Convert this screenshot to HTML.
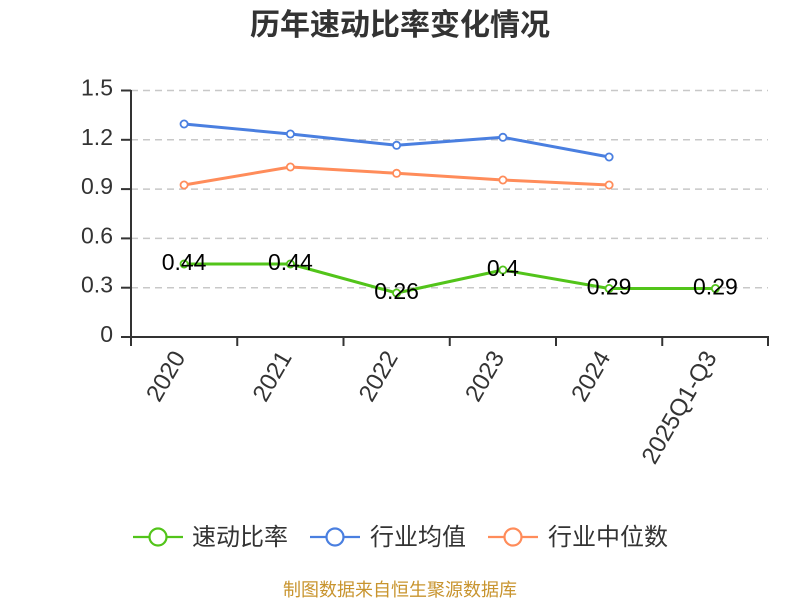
<!DOCTYPE html>
<html>
<head>
<meta charset="utf-8">
<style>
  html, body { margin: 0; padding: 0; background: #ffffff; }
  svg { display: block; }
  text { font-family: "Liberation Sans", "Noto Sans CJK SC", sans-serif; }
</style>
</head>
<body>
<svg width="800" height="600" viewBox="0 0 800 600" xmlns="http://www.w3.org/2000/svg">
  <rect x="0" y="0" width="800" height="600" fill="#ffffff"/>

  <!-- Title -->
  <text x="400" y="35" text-anchor="middle" font-size="30" font-weight="bold" fill="#333333">历年速动比率变化情况</text>

  <!-- Grid lines -->
  <g stroke="#c8c8c8" stroke-width="1.5" stroke-dasharray="7,5" fill="none">
    <line x1="131" y1="90.5" x2="768" y2="90.5"/>
    <line x1="131" y1="139.8" x2="768" y2="139.8"/>
    <line x1="131" y1="189.1" x2="768" y2="189.1"/>
    <line x1="131" y1="238.4" x2="768" y2="238.4"/>
    <line x1="131" y1="287.7" x2="768" y2="287.7"/>
  </g>

  <!-- Axes -->
  <g stroke="#333333" stroke-width="2" fill="none">
    <line x1="131" y1="90" x2="131" y2="337"/>
    <line x1="130" y1="337" x2="769" y2="337"/>
    <!-- y ticks -->
    <line x1="121" y1="90.5" x2="131" y2="90.5"/>
    <line x1="121" y1="139.8" x2="131" y2="139.8"/>
    <line x1="121" y1="189.1" x2="131" y2="189.1"/>
    <line x1="121" y1="238.4" x2="131" y2="238.4"/>
    <line x1="121" y1="287.7" x2="131" y2="287.7"/>
    <line x1="121" y1="337" x2="131" y2="337"/>
    <!-- x ticks -->
    <line x1="131" y1="337" x2="131" y2="346"/>
    <line x1="237.25" y1="337" x2="237.25" y2="346"/>
    <line x1="343.5" y1="337" x2="343.5" y2="346"/>
    <line x1="449.75" y1="337" x2="449.75" y2="346"/>
    <line x1="556" y1="337" x2="556" y2="346"/>
    <line x1="662.25" y1="337" x2="662.25" y2="346"/>
    <line x1="768" y1="337" x2="768" y2="346"/>
  </g>

  <!-- Y labels -->
  <g font-size="23" fill="#333333" text-anchor="end">
    <text x="113" y="95.5">1.5</text>
    <text x="113" y="144.8">1.2</text>
    <text x="113" y="194.1">0.9</text>
    <text x="113" y="243.4">0.6</text>
    <text x="113" y="292.7">0.3</text>
    <text x="113" y="342">0</text>
  </g>

  <!-- X labels -->
  <g font-size="24" fill="#333333" text-anchor="end">
    <text transform="translate(186,357) rotate(-60)">2020</text>
    <text transform="translate(292.4,357) rotate(-60)">2021</text>
    <text transform="translate(398.6,357) rotate(-60)">2022</text>
    <text transform="translate(504.9,357) rotate(-60)">2023</text>
    <text transform="translate(611.1,357) rotate(-60)">2024</text>
    <text transform="translate(717.4,357) rotate(-60)">2025Q1-Q3</text>
  </g>

  <!-- Series lines -->
  <polyline fill="none" stroke="#4a7fe0" stroke-width="3" stroke-linejoin="round"
    points="184.1,124 290.4,134 396.6,145.3 502.9,137.3 609.1,157"/>
  <polyline fill="none" stroke="#ff8c5a" stroke-width="3" stroke-linejoin="round"
    points="184.1,185 290.4,167 396.6,173.3 502.9,180 609.1,185"/>
  <polyline fill="none" stroke="#52c41a" stroke-width="3" stroke-linejoin="round"
    points="184.1,264 290.4,264 396.6,293 502.9,270 609.1,288.5 715.4,288.5"/>

  <!-- Markers -->
  <g fill="#ffffff" stroke="#4a7fe0" stroke-width="1.8">
    <circle cx="184.1" cy="124" r="3.6"/>
    <circle cx="290.4" cy="134" r="3.6"/>
    <circle cx="396.6" cy="145.3" r="3.6"/>
    <circle cx="502.9" cy="137.3" r="3.6"/>
    <circle cx="609.1" cy="157" r="3.6"/>
  </g>
  <g fill="#ffffff" stroke="#ff8c5a" stroke-width="1.8">
    <circle cx="184.1" cy="185" r="3.6"/>
    <circle cx="290.4" cy="167" r="3.6"/>
    <circle cx="396.6" cy="173.3" r="3.6"/>
    <circle cx="502.9" cy="180" r="3.6"/>
    <circle cx="609.1" cy="185" r="3.6"/>
  </g>
  <g fill="#ffffff" stroke="#52c41a" stroke-width="1.8">
    <circle cx="184.1" cy="264" r="3.6"/>
    <circle cx="290.4" cy="264" r="3.6"/>
    <circle cx="396.6" cy="293" r="3.6"/>
    <circle cx="502.9" cy="270" r="3.6"/>
    <circle cx="609.1" cy="288.5" r="3.6"/>
    <circle cx="715.4" cy="288.5" r="3.6"/>
  </g>

  <!-- Data labels -->
  <g font-size="23" fill="#000000" text-anchor="middle">
    <text x="184.1" y="270.2">0.44</text>
    <text x="290.4" y="270.2">0.44</text>
    <text x="396.6" y="299.2">0.26</text>
    <text x="502.9" y="276.2">0.4</text>
    <text x="609.1" y="294.5">0.29</text>
    <text x="715.4" y="294.5">0.29</text>
  </g>

  <!-- Legend -->
  <g stroke-width="2.2">
    <line x1="133" y1="537" x2="183" y2="537" stroke="#52c41a"/>
    <circle cx="158" cy="537" r="8.5" fill="#ffffff" stroke="#52c41a"/>
    <line x1="310" y1="537" x2="360" y2="537" stroke="#4a7fe0"/>
    <circle cx="335" cy="537" r="8.5" fill="#ffffff" stroke="#4a7fe0"/>
    <line x1="488" y1="537" x2="538" y2="537" stroke="#ff8c5a"/>
    <circle cx="513" cy="537" r="8.5" fill="#ffffff" stroke="#ff8c5a"/>
  </g>
  <g font-size="24" fill="#333333">
    <text x="192" y="545">速动比率</text>
    <text x="370" y="545">行业均值</text>
    <text x="548" y="545">行业中位数</text>
  </g>

  <!-- Footer -->
  <text x="400" y="596" text-anchor="middle" font-size="18" fill="#c8942e">制图数据来自恒生聚源数据库</text>
</svg>
</body>
</html>
